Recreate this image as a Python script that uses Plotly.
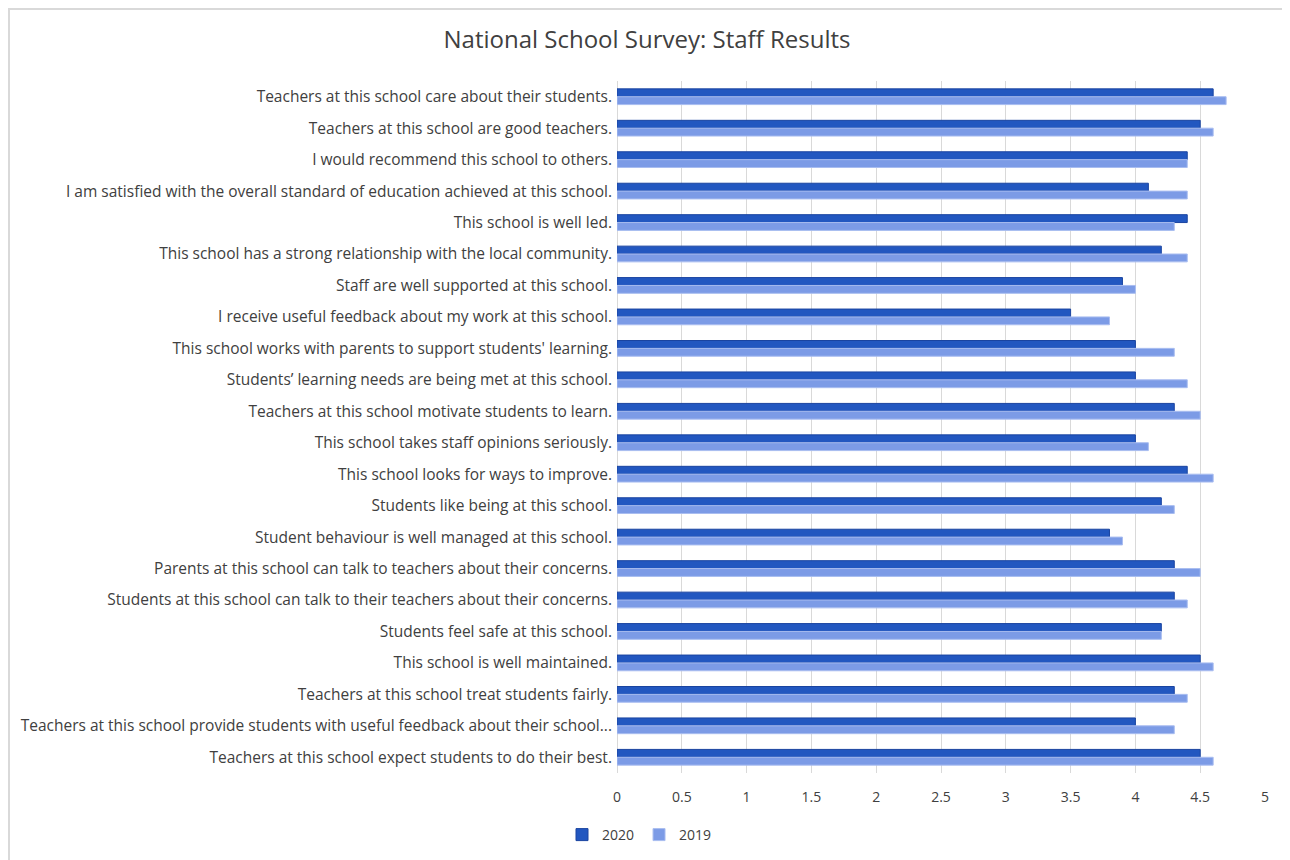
import plotly.graph_objects as go

categories = [
    "Teachers at this school care about their students.",
    "Teachers at this school are good teachers.",
    "I would recommend this school to others.",
    "I am satisfied with the overall standard of education achieved at this school.",
    "This school is well led.",
    "This school has a strong relationship with the local community.",
    "Staff are well supported at this school.",
    "I receive useful feedback about my work at this school.",
    "This school works with parents to support students' learning.",
    "Students’ learning needs are being met at this school.",
    "Teachers at this school motivate students to learn.",
    "This school takes staff opinions seriously.",
    "This school looks for ways to improve.",
    "Students like being at this school.",
    "Student behaviour is well managed at this school.",
    "Parents at this school can talk to teachers about their concerns.",
    "Students at this school can talk to their teachers about their concerns.",
    "Students feel safe at this school.",
    "This school is well maintained.",
    "Teachers at this school treat students fairly.",
    "Teachers at this school provide students with useful feedback about their school...",
    "Teachers at this school expect students to do their best.",
]
values_2020 = [4.6, 4.5, 4.4, 4.1, 4.4, 4.2, 3.9, 3.5, 4.0, 4.0, 4.3,
               4.0, 4.4, 4.2, 3.8, 4.3, 4.3, 4.2, 4.5, 4.3, 4.0, 4.5]
values_2019 = [4.7, 4.6, 4.4, 4.4, 4.3, 4.4, 4.0, 3.8, 4.3, 4.4, 4.5,
               4.1, 4.6, 4.3, 3.9, 4.5, 4.4, 4.2, 4.6, 4.4, 4.3, 4.6]
x_ticks = [0, 0.5, 1, 1.5, 2, 2.5, 3, 3.5, 4, 4.5, 5]
x_tick_labels = ["0", "0.5", "1", "1.5", "2", "2.5", "3", "3.5", "4", "4.5", "5"]

fig = go.Figure()
fig.add_trace(go.Bar(
    y=categories, x=values_2020, orientation="h", name="2020",
    marker=dict(color="#2257C0", line=dict(color="#1A44A0", width=1)),
))
fig.add_trace(go.Bar(
    y=categories, x=values_2019, orientation="h", name="2019",
    marker=dict(color="#7C9BE6", line=dict(color="#A9BDF0", width=1)),
))

font_family = "'Open Sans', Lato, Arial, sans-serif"
OFF = 8  # page body margin offset
L, R, T, B = 617 - OFF, 25 + OFF, 81 - OFF, 87 + OFF
PW, PH = 1290 - L - R, 860 - T - B
PB = 860 - B  # paper bottom in figure pixels


def px_x(fx):
    return (fx - L) / PW


def px_y(fy):
    return (PB - fy) / PH


fig.update_layout(
    width=1290, height=860,
    barmode="group", bargap=0.5, bargroupgap=0.0,
    paper_bgcolor="white", plot_bgcolor="white",
    margin=dict(l=L, r=R, t=T, b=B),
    title=dict(text="National School Survey: Staff Results",
               x=(647 - OFF) / 1290, xanchor="center",
               y=1 - (40 - OFF) / 860, yanchor="middle",
               font=dict(family="'Open Sans', Lato, sans-serif", size=24, color="#404040")),
    font=dict(family=font_family, size=15, color="#404040"),
    xaxis=dict(range=[0, 5], tickvals=x_ticks, ticktext=x_tick_labels,
               showgrid=True, gridcolor="#D9D9D9", gridwidth=1,
               zeroline=True, zerolinecolor="#D9D9D9", zerolinewidth=1,
               showline=False, ticks="", ticklen=0, ticklabelstandoff=14,
               tickfont=dict(size=14, color="#404040")),
    yaxis=dict(autorange="reversed", showgrid=False, ticks="",
               ticksuffix=" ", showline=False,
               tickfont=dict(size=15.5, color="#404040")),
    legend=dict(orientation="h", x=px_x(590 - OFF - 28), xanchor="left",
                y=px_y(835 - OFF), yanchor="middle",
                font=dict(size=14, color="#404040"), itemwidth=30,
                traceorder="normal"),
    showlegend=True,
)

fig.add_shape(type="rect", xref="paper", yref="paper",
              x0=px_x(1), x1=px_x(1320),
              y0=px_y(900), y1=px_y(1),
              line=dict(color="#D9D9D9", width=2), fillcolor="rgba(0,0,0,0)",
              layer="below")

fig.write_html("out.html")
